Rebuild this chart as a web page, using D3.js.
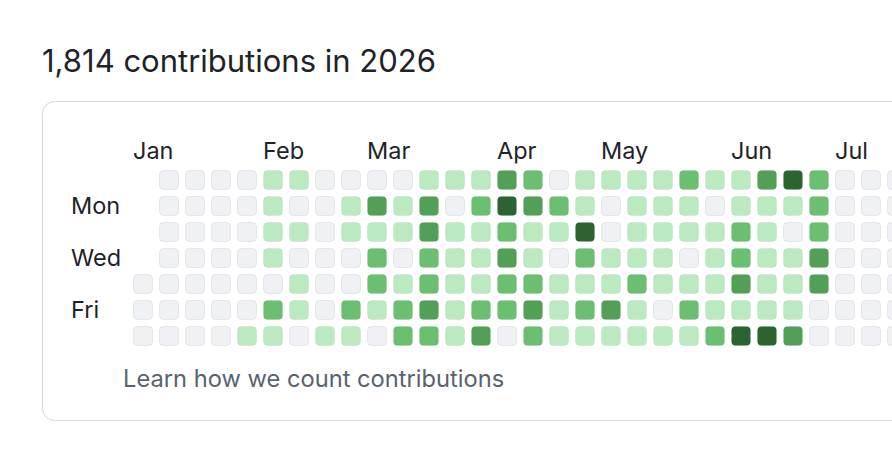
<!DOCTYPE html>
<html>
<head>
<meta charset="utf-8">
<script src="https://cdn.jsdelivr.net/npm/d3@7"></script>
<style>
    body { margin: 0; background: #ffffff; overflow: hidden; }
    text { font-family: Inter, "Liberation Sans", sans-serif; }
</style>
</head>
<body>
<div id="chart"></div>
<script>
const title = "1,814 contributions in 2026"
const footer = "Learn how we count contributions"

// month label -> first week column that starts in that month
const months = ["Jan", "Feb", "Mar", "Apr", "May", "Jun", "Jul"]
const monthWeeks = [0, 5, 9, 14, 18, 23, 27]

const dayLabels = ["", "Mon", "", "Wed", "", "Fri", ""]

// contribution level per week (Sun..Sat), null = day outside the year
const weeks = [
    [null, null, null, null, 0, 0, 0],
    [0, 0, 0, 0, 0, 0, 0],
    [0, 0, 0, 0, 0, 0, 0],
    [0, 0, 0, 0, 0, 0, 0],
    [0, 0, 0, 0, 0, 0, 1],
    [1, 1, 1, 1, 0, 2, 1],
    [1, 0, 1, 0, 1, 1, 0],
    [0, 0, 0, 0, 0, 0, 1],
    [0, 1, 1, 0, 0, 2, 1],
    [0, 3, 1, 2, 2, 1, 0],
    [0, 1, 1, 0, 1, 2, 2],
    [1, 3, 3, 2, 2, 3, 2],
    [1, 0, 1, 1, 1, 1, 1],
    [1, 2, 1, 1, 1, 2, 3],
    [3, 4, 2, 3, 2, 2, 0],
    [2, 3, 1, 1, 2, 3, 2],
    [0, 2, 1, 0, 1, 1, 1],
    [1, 1, 4, 2, 1, 2, 1],
    [1, 0, 0, 1, 1, 3, 1],
    [1, 1, 1, 1, 2, 1, 1],
    [1, 1, 1, 1, 1, 0, 1],
    [2, 1, 1, 0, 1, 2, 1],
    [1, 0, 1, 1, 1, 1, 2],
    [1, 1, 2, 2, 3, 1, 4],
    [3, 1, 1, 1, 1, 1, 4],
    [4, 1, 0, 1, 1, 1, 3],
    [2, 2, 2, 3, 3, 0, 0],
    [0, 0, 0, 0, 0, 0, 0],
    [0, 0, 0, 0, 0, 0, 0],
    [0, 0, 0, 0, 0, 0, 0]
]

const levelColors = ["#eff1f5", "#bbeac1", "#6bbf71", "#52a056", "#2b6331"]

const width = 892, height = 462
const step = 26, gap = 6

var svg = d3.select("#chart")
    .append("svg")
    .attr("width", width)
    .attr("height", height)

svg.append("text")
    .text(title)
    .attr("x", 42)
    .attr("y", 72)
    .attr("font-size", "31px")
    .attr("fill", "#1f2328")

// card
svg.append("rect")
    .attr("x", 42.5)
    .attr("y", 101.5)
    .attr("width", 1200)
    .attr("height", 319)
    .attr("rx", 12)
    .attr("fill", "none")
    .attr("stroke", "#d1d9e0")

var x = d3.scaleBand()
    .domain(d3.range(weeks.length))
    .range([133, 133 + step * weeks.length - gap])
    .paddingInner(gap / step)

var y = d3.scaleBand()
    .domain(d3.range(7))
    .range([170, 170 + step * 7 - gap])
    .paddingInner(gap / step)

var color = d3.scaleOrdinal()
    .domain(d3.range(levelColors.length))
    .range(levelColors)

var days = []
weeks.forEach(function (w, i) {
    w.forEach(function (lvl, d) {
        if (lvl !== null) days.push({ week: i, day: d, level: lvl })
    })
})

svg.append("g")
    .selectAll("rect")
    .data(days)
    .enter()
    .append("rect")
    .attr("x", d => x(d.week) + 0.5)
    .attr("y", d => y(d.day) + 0.5)
    .attr("width", x.bandwidth() - 1)
    .attr("height", y.bandwidth() - 1)
    .attr("rx", 4)
    .attr("fill", d => color(d.level))
    .attr("stroke", d => d.level == 0 ? "rgba(31,35,40,0.08)" : "rgba(31,35,40,0.05)")

svg.append("g")
    .selectAll("text")
    .data(months)
    .enter()
    .append("text")
    .text(d => d)
    .attr("x", (d, i) => x(monthWeeks[i]))
    .attr("y", 159)
    .attr("font-size", "23.5px")
    .attr("fill", "#1f2328")

svg.append("g")
    .selectAll("text")
    .data(dayLabels)
    .enter()
    .append("text")
    .text(d => d)
    .attr("x", 71)
    .attr("y", (d, i) => y(i) + y.bandwidth() / 2 + 8)
    .attr("font-size", "23.5px")
    .attr("fill", "#1f2328")

svg.append("text")
    .text(footer)
    .attr("x", 123)
    .attr("y", 387)
    .attr("font-size", "23.7px")
    .attr("fill", "#59636e")
</script>
</body>
</html>
